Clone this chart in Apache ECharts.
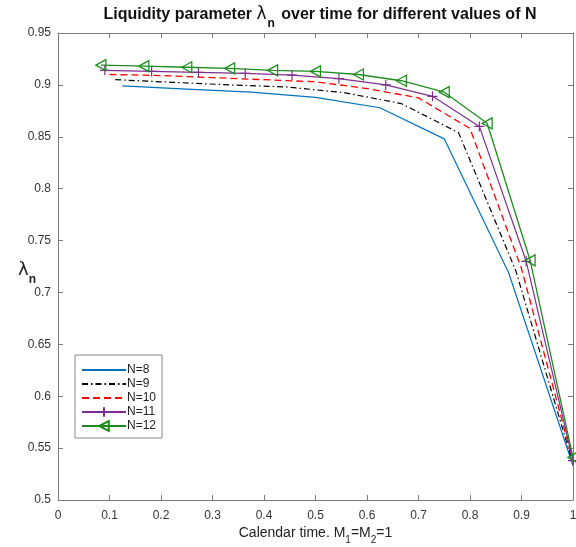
<!DOCTYPE html>
<html>
<head>
<meta charset="utf-8">
<script src="https://cdn.jsdelivr.net/npm/echarts@6/dist/echarts.min.js"></script>
<style>
html,body{margin:0;padding:0;background:#fff;}
#c{width:576px;height:547px;}
</style>
</head>
<body>
<div id="c"></div>
<script>
// ---- data ----
const seriesNames = ['N=8', 'N=9', 'N=10', 'N=11', 'N=12'];
const tN8  = [0.125, 0.25, 0.375, 0.5, 0.625, 0.75, 0.875, 1];
const yN8  = [0.899, 0.896, 0.893, 0.888, 0.878, 0.848, 0.719, 0.533];
const tN9  = [0.1111, 0.2222, 0.3333, 0.4444, 0.5556, 0.6667, 0.7778, 0.8889, 1];
const yN9  = [0.905, 0.9025, 0.900, 0.898, 0.8925, 0.882, 0.854, 0.721, 0.535];
const tN10 = [0.1, 0.2, 0.3, 0.4, 0.5, 0.6, 0.7, 0.8, 0.9, 1];
const yN10 = [0.910, 0.909, 0.907, 0.905, 0.903, 0.8965, 0.8875, 0.858, 0.723, 0.537];
const tN11 = [0.0909, 0.1818, 0.2727, 0.3636, 0.4545, 0.5455, 0.6364, 0.7273, 0.8182, 0.9091, 1];
const yN11 = [0.914, 0.913, 0.912, 0.911, 0.9095, 0.906, 0.900, 0.889, 0.860, 0.730, 0.538];
const tN12 = [0.0833, 0.1667, 0.25, 0.3333, 0.4167, 0.5, 0.5833, 0.6667, 0.75, 0.8333, 0.9167, 1];
const yN12 = [0.919, 0.918, 0.917, 0.916, 0.914, 0.913, 0.910, 0.904, 0.893, 0.863, 0.731, 0.541];
const xTickLabels = ['0', '0.1', '0.2', '0.3', '0.4', '0.5', '0.6', '0.7', '0.8', '0.9', '1'];
const yTickLabels = ['0.5', '0.55', '0.6', '0.65', '0.7', '0.75', '0.8', '0.85', '0.9', '0.95'];

const pairs = (t, y) => t.map((v, i) => [v, y[i]]);

const axisCol = '#7a7a7a';
const textCol = '#333';
const font = 'Liberation Sans, Arial, sans-serif';

const chart = echarts.init(document.getElementById('c'), null, {renderer: 'canvas'});

function xFmt(v) {
  const i = Math.round(v * 10);
  return xTickLabels[i] !== undefined ? xTickLabels[i] : '';
}
function yFmt(v) {
  const i = Math.round((v - 0.5) / 0.05);
  return yTickLabels[i] !== undefined ? yTickLabels[i] : '';
}

const baseX = {
  type: 'value', min: 0, max: 1, interval: 0.1,
  axisLine: {show: true, onZero: false, lineStyle: {color: axisCol, width: 1}},
  axisTick: {show: true, inside: true, length: 5, lineStyle: {color: axisCol}},
  splitLine: {show: false}
};
const baseY = {
  type: 'value', min: 0.5, max: 0.95, interval: 0.05,
  axisLine: {show: true, onZero: false, lineStyle: {color: axisCol, width: 1}},
  axisTick: {show: true, inside: true, length: 5, lineStyle: {color: axisCol}},
  splitLine: {show: false}
};

const option = {
  backgroundColor: '#fff',
  animation: false,
  textStyle: {fontFamily: font},
  title: {
    left: 315, top: 0, textAlign: 'center',
    text: '{a|Liquidity parameter }{l|λ}{s|n}{a| over time for different values of N}',
    textStyle: {
      rich: {
        a: {fontSize: 16, fontWeight: 'bold', color: '#111', fontFamily: font, verticalAlign: 'bottom', lineHeight: 18},
        l: {fontSize: 17, fontWeight: 'normal', color: '#111', fontFamily: 'DejaVu Sans, sans-serif', verticalAlign: 'bottom', lineHeight: 18},
        s: {fontSize: 12, fontWeight: 'bold', color: '#111', fontFamily: font, verticalAlign: 'bottom', lineHeight: 18, padding: [0, 2, -7, 1]}
      }
    }
  },
  grid: {left: 58, right: 3, top: 33, bottom: 47, containLabel: false, outerBoundsMode: 'none'},
  legend: {
    orient: 'vertical', left: 75, top: 355,
    itemWidth: 44, itemHeight: 12, itemGap: 2,
    padding: [9, 6, 6, 6],
    borderColor: '#888', borderWidth: 1, backgroundColor: '#fff',
    textStyle: {fontSize: 12, color: '#222', fontFamily: font, padding: [0, 0, 0, -4]},
    data: [
      {name: 'N=8', itemStyle: {opacity: 0}},
      {name: 'N=9', itemStyle: {opacity: 0}},
      {name: 'N=10', itemStyle: {opacity: 0}},
      {name: 'N=11'},
      {name: 'N=12'}
    ]
  },
  xAxis: [
    Object.assign({}, baseX, {
      position: 'bottom',
      axisLabel: {show: true, formatter: xFmt, color: textCol, fontSize: 12, margin: 10, fontFamily: font},
      name: '{a|Calendar time. M}{s|1}{a|=M}{s|2}{a|=1}',
      nameLocation: 'middle', nameGap: 23, nameMoveOverlap: false,
      nameTextStyle: {
        rich: {
          a: {fontSize: 14, color: '#222', fontFamily: font, verticalAlign: 'bottom', lineHeight: 17},
          s: {fontSize: 10, color: '#222', fontFamily: font, verticalAlign: 'bottom', lineHeight: 17, padding: [0, 0, -5, 0]}
        }
      }
    }),
    Object.assign({}, baseX, {position: 'top', axisLabel: {show: false}})
  ],
  yAxis: [
    Object.assign({}, baseY, {
      position: 'left',
      axisLabel: {show: true, formatter: yFmt, color: textCol, fontSize: 12, margin: 7, fontFamily: font},
      name: '{l|λ}{s|n}',
      nameLocation: 'middle', nameRotate: 0, nameGap: 22, nameMoveOverlap: false,
      nameTextStyle: {
        padding: [3, 0, 0, 0],
        rich: {
          l: {fontSize: 18, color: '#222', fontFamily: 'DejaVu Sans, sans-serif', verticalAlign: 'bottom', lineHeight: 22},
          s: {fontSize: 12, fontWeight: 'bold', color: '#222', fontFamily: font, verticalAlign: 'bottom', lineHeight: 22, padding: [0, 0, -7, 0]}
        }
      }
    }),
    Object.assign({}, baseY, {position: 'right', axisLabel: {show: false}})
  ],
  series: [
    {
      name: 'N=8', type: 'line', data: pairs(tN8, yN8), symbol: 'none',
      lineStyle: {color: '#0072BD', width: 1.2}, itemStyle: {color: '#0072BD'}
    },
    {
      name: 'N=9', type: 'line', data: pairs(tN9, yN9), symbol: 'none',
      lineStyle: {color: '#000', width: 1.2, type: [6, 3, 1.5, 3]}, itemStyle: {color: '#000'}
    },
    {
      name: 'N=10', type: 'line', data: pairs(tN10, yN10), symbol: 'none',
      lineStyle: {color: '#FF0000', width: 1.3, type: [7, 4]}, itemStyle: {color: '#FF0000'}
    },
    {
      name: 'N=11', type: 'line', data: pairs(tN11, yN11),
      symbol: 'path://M0,-5L0,5M-5,0L5,0', symbolSize: 10,
      lineStyle: {color: '#7E2F8E', width: 1.2},
      itemStyle: {color: '#7E2F8E', borderColor: '#7E2F8E', borderWidth: 1.2}
    },
    {
      name: 'N=12', type: 'line', data: pairs(tN12, yN12),
      symbol: 'path://M0,5L10,0L10,10Z', symbolSize: [10, 11],
      lineStyle: {color: '#1E8C1E', width: 1.3},
      itemStyle: {color: 'rgba(255,255,255,0)', borderColor: '#1E8C1E', borderWidth: 1.3}
    }
  ]
};
chart.setOption(option);
</script>
</body>
</html>
